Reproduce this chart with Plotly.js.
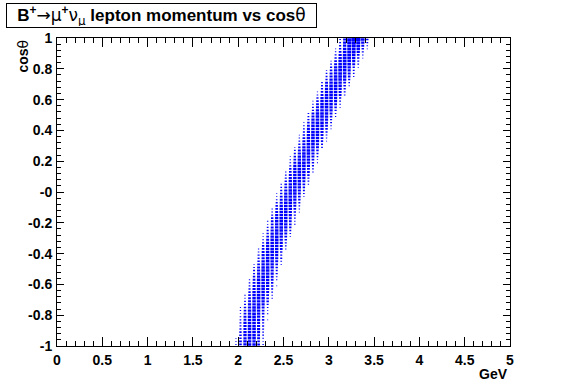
<!DOCTYPE html>
<html>
<head>
<meta charset="utf-8">
<script src="https://cdn.plot.ly/plotly-3.0.1.min.js"></script>
<style>
  html, body { margin: 0; padding: 0; background: #fff; }
</style>
</head>
<body>
<div id="chart" style="width:567px;height:384px;"></div>
<script>
// ======================================================================
// データ（100 x 100 ビンの2Dヒストグラム, 非ゼロの帯だけ保持）
// ======================================================================

const xBinWidth = 0.05;   // GeV
const yBinWidth = 0.02;   // cosθ

// y ビン i (cosθ = -1 から上へ) ごとの、最初の x ビン番号
const rowStartBin = [
    38, 38, 38, 38, 38, 38, 38, 39, 39, 39,
    39, 39, 39, 39, 40, 40, 40, 40, 40, 41,
    41, 41, 41, 41, 42, 42, 42, 42, 42, 43,
    43, 43, 43, 44, 44, 44, 44, 44, 45, 45,
    45, 45, 46, 46, 46, 46, 46, 47, 47, 47,
    47, 48, 48, 48, 48, 49, 49, 49, 50, 50,
    50, 50, 51, 51, 51, 51, 52, 52, 52, 52,
    53, 53, 53, 54, 54, 54, 54, 55, 55, 55,
    56, 56, 56, 56, 57, 57, 57, 58, 58, 58,
    59, 59, 59, 60, 60, 60, 60, 61, 61, 61
];

// 各行のビン内容（rowStartBin から順に）
const rowCounts = [
    [1, 6, 27, 44, 48, 46, 29, 8, 1],
    [0, 8, 30, 46, 51, 43, 26, 6, 1],
    [1, 5, 21, 40, 49, 48, 34, 10, 1],
    [0, 3, 24, 43, 52, 46, 31, 12, 0],
    [0, 4, 20, 41, 47, 49, 35, 11, 2],
    [0, 2, 17, 37, 48, 50, 39, 15, 2],
    [0, 1, 14, 39, 50, 47, 37, 17, 3],
    [2, 15, 40, 48, 50, 36, 17, 3, 0],
    [1, 12, 31, 46, 51, 41, 23, 5, 0],
    [0, 10, 34, 48, 49, 43, 21, 4, 1],
    [1, 7, 29, 44, 52, 44, 27, 8, 0],
    [1, 8, 26, 46, 49, 46, 29, 6, 1],
    [0, 5, 23, 41, 50, 48, 32, 10, 1],
    [0, 2, 15, 39, 47, 50, 37, 16, 2],
    [1, 11, 32, 48, 49, 41, 24, 4, 0],
    [1, 6, 29, 45, 51, 44, 26, 7, 1],
    [0, 8, 27, 43, 50, 47, 29, 8, 1],
    [1, 4, 21, 43, 48, 46, 34, 12, 1],
    [0, 2, 17, 38, 50, 48, 39, 15, 2],
    [1, 12, 34, 46, 52, 42, 21, 5, 0],
    [0, 10, 32, 47, 48, 43, 23, 3, 1],
    [1, 7, 28, 46, 50, 44, 28, 7, 1],
    [0, 4, 23, 41, 51, 47, 32, 11, 0],
    [0, 2, 16, 37, 49, 49, 38, 17, 2],
    [2, 16, 39, 48, 50, 37, 15, 2, 0],
    [1, 11, 33, 46, 49, 43, 22, 4, 0],
    [0, 7, 29, 44, 51, 45, 27, 8, 1],
    [1, 4, 22, 43, 49, 46, 33, 11, 1],
    [0, 3, 15, 38, 48, 50, 37, 16, 2],
    [2, 17, 37, 50, 48, 38, 16, 3, 0],
    [1, 10, 33, 47, 51, 42, 22, 4, 0],
    [1, 7, 27, 45, 49, 46, 28, 7, 1],
    [0, 4, 22, 41, 50, 47, 34, 11, 1],
    [2, 16, 38, 48, 50, 39, 16, 2, 0],
    [1, 11, 34, 46, 50, 41, 23, 4, 0],
    [1, 6, 28, 46, 51, 44, 29, 7, 1],
    [0, 5, 21, 42, 49, 48, 33, 10, 1],
    [0, 2, 16, 39, 49, 48, 38, 15, 2],
    [1, 12, 32, 47, 50, 42, 22, 4, 0],
    [1, 7, 29, 44, 50, 46, 27, 8, 1],
    [0, 8, 27, 46, 49, 44, 29, 7, 1],
    [1, 4, 22, 42, 51, 47, 32, 11, 1],
    [2, 15, 38, 49, 48, 39, 17, 2, 0],
    [1, 11, 33, 48, 50, 41, 22, 5, 0],
    [1, 7, 28, 45, 49, 45, 28, 8, 1],
    [0, 4, 23, 42, 50, 47, 33, 10, 1],
    [0, 2, 16, 37, 50, 49, 38, 16, 2],
    [1, 10, 33, 46, 51, 42, 23, 4, 0],
    [1, 7, 29, 45, 50, 44, 27, 7, 1],
    [0, 5, 22, 41, 49, 48, 33, 11, 1],
    [0, 2, 17, 38, 49, 50, 37, 15, 2],
    [1, 11, 32, 47, 50, 43, 22, 4, 0],
    [1, 8, 28, 44, 51, 45, 28, 7, 1],
    [0, 4, 21, 43, 50, 46, 33, 12, 1],
    [0, 2, 16, 38, 48, 50, 39, 16, 2],
    [1, 11, 34, 47, 49, 42, 23, 4, 1],
    [1, 7, 27, 45, 50, 46, 29, 8, 1],
    [0, 4, 22, 42, 51, 47, 32, 11, 1],
    [2, 16, 38, 49, 50, 38, 17, 3, 0],
    [1, 11, 33, 46, 50, 43, 22, 5, 0],
    [1, 8, 28, 45, 49, 45, 28, 7, 1],
    [0, 5, 22, 42, 50, 47, 34, 11, 1],
    [2, 16, 39, 48, 49, 38, 16, 3, 0],
    [1, 12, 33, 47, 51, 42, 23, 4, 0],
    [1, 5, 23, 42, 49, 48, 33, 11, 1],
    [0, 3, 17, 38, 50, 49, 38, 16, 2],
    [1, 11, 34, 46, 50, 43, 22, 5, 1],
    [1, 8, 29, 45, 51, 45, 28, 8, 1],
    [0, 5, 22, 43, 49, 47, 33, 12, 1],
    [0, 3, 16, 39, 49, 50, 38, 17, 2],
    [2, 13, 35, 47, 50, 43, 25, 6, 1],
    [2, 10, 31, 46, 50, 46, 30, 9, 2],
    [1, 6, 25, 43, 51, 48, 35, 13, 2],
    [3, 18, 40, 49, 50, 40, 18, 3, 1],
    [2, 13, 34, 48, 50, 44, 25, 6, 1],
    [2, 10, 31, 46, 51, 46, 31, 10, 2],
    [1, 4, 18, 40, 49, 50, 40, 18, 4],
    [2, 13, 36, 47, 51, 43, 24, 6, 1],
    [2, 9, 31, 47, 50, 46, 31, 10, 2],
    [1, 6, 25, 44, 50, 48, 36, 13, 2],
    [4, 18, 40, 50, 51, 39, 19, 4, 1],
    [2, 10, 32, 46, 50, 47, 31, 10, 2],
    [1, 6, 25, 43, 51, 48, 35, 14, 2],
    [1, 4, 19, 40, 50, 51, 40, 18, 4],
    [2, 14, 35, 48, 51, 44, 25, 6, 1],
    [2, 10, 32, 47, 52, 46, 31, 10, 2],
    [1, 4, 19, 41, 51, 50, 41, 19, 4],
    [2, 14, 36, 48, 52, 45, 26, 7, 1],
    [2, 11, 33, 47, 53, 48, 32, 11, 2],
    [1, 7, 26, 45, 53, 50, 37, 14, 3],
    [4, 19, 42, 52, 53, 42, 20, 5, 1],
    [2, 11, 33, 49, 54, 49, 33, 11, 2],
    [1, 7, 27, 46, 55, 51, 38, 15, 3],
    [4, 20, 43, 54, 55, 43, 21, 5, 1],
    [3, 15, 38, 52, 56, 48, 28, 8, 2],
    [1, 8, 28, 49, 58, 55, 40, 16, 3],
    [1, 5, 22, 45, 57, 58, 46, 22, 5],
    [3, 17, 42, 58, 64, 55, 32, 9, 2],
    [3, 14, 40, 60, 70, 62, 41, 14, 3],
    [2, 10, 38, 64, 80, 76, 55, 22, 4]
];

const xRange = [0, 5];
const yRange = [-1, 1];
const yTickVals = [-1, -0.8, -0.6, -0.4, -0.2, 0, 0.2, 0.4, 0.6, 0.8, 1];
const yTickText = ['-1', '-0.8', '-0.6', '-0.4', '-0.2', '-0', '0.2', '0.4', '0.6', '0.8', '1'];

// ======================================================================
// BOX 描画（面積がビン内容に比例）
// ======================================================================

const zMax = Math.max(...rowCounts.flat());
const boxX = [];
const boxY = [];

rowCounts.forEach((counts, i) => {
    const yc = yRange[0] + (i + 0.5) * yBinWidth;
    counts.forEach((z, k) => {
        if (z <= 0) return;
        const xc = (rowStartBin[i] + k + 0.5) * xBinWidth;
        const s = 0.5 * Math.sqrt(z / zMax);
        const hx = s * xBinWidth;
        const hy = s * yBinWidth;
        boxX.push(xc - hx, xc + hx, xc + hx, xc - hx, xc - hx, null);
        boxY.push(yc - hy, yc - hy, yc + hy, yc + hy, yc - hy, null);
    });
});

const data = [{
    type: 'scatter',
    mode: 'lines',
    x: boxX,
    y: boxY,
    fill: 'toself',
    fillcolor: '#0000ff',
    line: { width: 0, color: '#0000ff' },
    hoverinfo: 'skip',
    showlegend: false
}];

const labelFont = { family: 'Liberation Sans, Arial, sans-serif', size: 14, color: '#000', weight: 'bold' };
const sym = t => `<span style="font-family:'DejaVu Sans';font-weight:normal">${t}</span>`;

const layout = {
    width: 567,
    height: 384,
    margin: { l: 57, r: 57, t: 38, b: 38 },
    paper_bgcolor: '#fff',
    plot_bgcolor: '#fff',
    showlegend: false,
    xaxis: {
        range: xRange,
        tickmode: 'linear',
        tick0: 0,
        dtick: 0.5,
        ticks: 'inside',
        ticklen: 9,
        tickwidth: 1,
        tickcolor: '#000',
        showline: true,
        linecolor: '#000',
        linewidth: 1,
        mirror: 'ticks',
        showgrid: false,
        zeroline: false,
        tickfont: labelFont,
        ticklabelstandoff: 1,
        minor: { tickmode: 'linear', tick0: 0, dtick: 0.1, ticks: 'inside', ticklen: 5, tickcolor: '#000', showgrid: false }
    },
    yaxis: {
        range: yRange,
        tickmode: 'array',
        tickvals: yTickVals,
        ticktext: yTickText,
        ticks: 'inside',
        ticklen: 7,
        tickwidth: 1,
        tickcolor: '#000',
        showline: true,
        linecolor: '#000',
        linewidth: 1,
        mirror: 'ticks',
        showgrid: false,
        zeroline: false,
        tickfont: labelFont,
        ticklabelstandoff: 1,
        minor: { tickmode: 'linear', tick0: -1, dtick: 0.04, ticks: 'inside', ticklen: 4, tickcolor: '#000', showgrid: false }
    },
    annotations: [
        {
            xref: 'paper', yref: 'paper',
            x: -0.1126, y: 1.1136,
            xanchor: 'left', yanchor: 'top',
            text: 'B<sup>+</sup>' + sym('→μ') + '<sup>+</sup>' + sym('ν') + '<sub>' + sym('μ') + '</sub> lepton momentum vs cos' + sym('θ'),
            showarrow: false,
            font: { family: 'Liberation Sans, Arial, sans-serif', size: 17, color: '#000', weight: 'bold' },
            bgcolor: '#fff',
            bordercolor: '#000',
            borderwidth: 1,
            borderpad: 1,
            width: 307,
            height: 21,
            align: 'center'
        },
        {
            xref: 'paper', yref: 'paper',
            x: 1, y: -0.06,
            xanchor: 'right', yanchor: 'top',
            text: 'GeV',
            showarrow: false,
            font: labelFont
        },
        {
            xref: 'paper', yref: 'paper',
            x: -0.077, y: 1,
            xanchor: 'center', yanchor: 'top',
            textangle: -90,
            text: 'cos' + sym('θ'),
            showarrow: false,
            font: labelFont
        }
    ]
};

Plotly.newPlot('chart', data, layout, { displayModeBar: false, staticPlot: true });
</script>
</body>
</html>
